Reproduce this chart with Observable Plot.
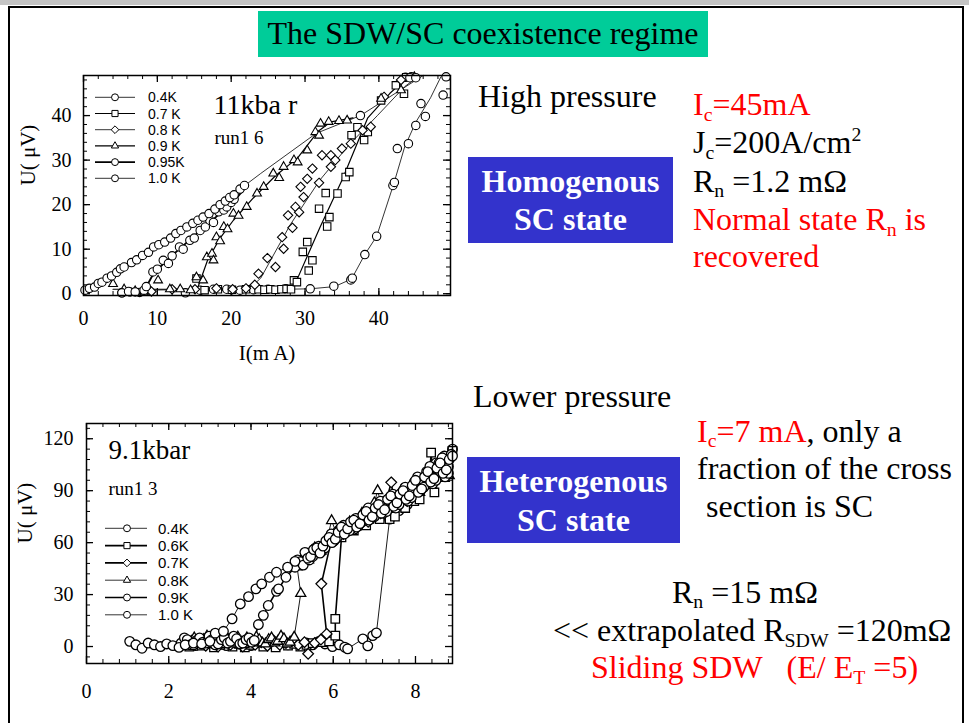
<!DOCTYPE html>
<html><head><meta charset="utf-8">
<script src="https://cdn.jsdelivr.net/npm/d3@7"></script>
<script src="https://cdn.jsdelivr.net/npm/@observablehq/plot@0.6"></script>
<style>
body{margin:0;background:#fff;}
#slide{position:relative;width:969px;height:723px;overflow:hidden;background:#fff;font-family:"Liberation Serif","Times New Roman",serif;}
.t{position:absolute;white-space:nowrap;line-height:1;}
.sub{font-size:0.62em;position:relative;top:0.28em;}
.sup{font-size:0.62em;position:relative;top:-0.62em;}
.plot{position:absolute;}
</style></head>
<body><div id="slide"></div>
<script>
// ---------- tick labels ----------
const TOP_X_TICKS = [0, 10, 20, 30, 40];
const TOP_Y_TICKS = [0, 10, 20, 30, 40];
const BOT_X_TICKS = [0, 2, 4, 6, 8];
const BOT_Y_TICKS = [0, 30, 60, 90, 120];

// ---------- top chart (11 kbar): I (mA), U (µV) ----------
const top_04K = [[5.2,0.2],[6.3,0.4],[7.6,0.3],[13.8,0.2],[15.8,0.8],[17.6,1.0],[19.4,1.0],[21.2,0.8],[23.0,0.9],[25.0,1.0],[27.4,1.1],[30.7,1.1],[33.9,1.7],[36.2,3.1],[36.4,3.5],[38.1,8.8],[39.7,12.9],[41.9,24.3],[42.1,25.0],[42.5,32.6],[44.0,33.7],[45.0,37.8],[45.7,42.7],[46.3,39.8],[48.7,44.6],[49.1,48.7],[43.6,48.6],[44.4,48.7]];
const top_07K = [[15.3,3.4],[16.4,0.8],[18.2,1.0],[20.1,0.9],[22.0,1.0],[23.7,1.0],[24.5,0.9],[25.3,1.0],[26.0,0.9],[26.8,1.0],[27.5,1.1],[28.1,1.0],[28.5,3.0],[28.9,2.6],[29.7,9.4],[30.3,11.6],[30.5,5.2],[31.0,7.5],[31.9,19.1],[33.0,15.1],[33.3,17.2],[32.8,22.6],[34.4,22.5],[35.5,26.2],[36.0,27.3],[36.3,35.6],[37.1,37.4],[38.0,34.5],[38.5,36.3],[40.3,43.4],[42.3,46.8],[43.4,44.9],[43.7,48.6]];
const top_08K = [[9.2,0.5],[12.0,1.0],[15.1,1.0],[18.0,1.2],[20.2,1.0],[22.0,1.2],[23.2,2.0],[23.7,4.5],[24.9,8.0],[26.0,6.0],[26.9,12.7],[27.1,10.1],[27.7,17.6],[28.3,14.8],[28.7,19.5],[29.2,18.3],[29.4,24.0],[29.8,21.7],[30.3,25.8],[31.0,28.1],[31.9,24.9],[32.3,31.1],[33.5,28.5],[33.5,31.1],[34.1,30.0],[35.0,32.6],[36.2,33.7],[37.8,36.7],[38.9,37.5],[40.7,44.2],[43.0,48.0]];
const top_09K = [[4.0,2.2],[5.5,1.0],[7.0,0.6],[8.2,0.3],[10.1,3.0],[11.7,1.0],[13.1,1.0],[14.5,0.8],[15.3,3.7],[16.2,3.0],[16.7,8.2],[17.4,9.0],[17.6,7.5],[18.0,12.7],[18.5,11.8],[19.0,15.0],[19.5,14.5],[20.3,18.0],[21.0,17.5],[22.1,19.5],[23.5,22.5],[24.4,24.0],[25.7,27.0],[26.5,26.0],[27.1,28.5],[28.5,30.0],[29.0,29.5],[30.3,32.2],[31.4,36.3],[31.9,35.5],[32.1,38.2],[33.2,38.6],[34.6,38.8],[35.7,38.9],[40.3,43.8],[43.0,45.7],[44.8,48.7]];
const top_095K = [[5.2,0.2],[6.1,0.5],[7.0,0.4],[8.2,0.8],[8.5,1.6],[9.4,4.9],[10.0,5.5],[10.8,7.5],[11.5,6.8],[12.0,8.5],[13.0,10.5],[13.5,10.0],[14.4,12.0],[15.0,12.5],[15.8,14.2],[16.5,15.0],[17.1,16.5],[17.6,16.0],[18.3,18.4],[19.0,18.8],[19.4,19.5],[20.0,20.5],[20.4,21.2]];
const top_10K = [[0.2,0.8],[0.8,1.2],[1.5,1.5],[2.0,2.3],[2.5,2.6],[3.2,3.5],[3.8,4.0],[4.5,4.8],[5.0,5.6],[5.5,6.0],[6.5,7.0],[7.2,7.6],[8.0,8.6],[8.8,9.3],[9.5,10.5],[10.2,11.0],[11.0,11.6],[11.8,12.5],[12.5,13.5],[13.2,14.2],[14.0,15.0],[14.8,15.8],[15.5,16.5],[16.2,17.2],[17.0,18.0],[17.8,19.0],[18.5,20.0],[19.2,20.8],[19.8,21.6],[20.4,22.2],[21.2,23.5],[21.8,24.3],[37.5,40.0],[44.2,48.5],[45.0,48.5]];
// guide curves drawn through the top data
const top_04K_fit = [[13,0.6],[30.7,1.1],[34,1.6],[36.3,3.3],[38.1,8.8],[39.7,12.9],[42,24.6],[43.5,33],[45,38.5],[47,44],[48.4,48.7]];
const top_07K_fit = [[16,1.0],[28.2,1.1],[29,3.5],[32,14.8],[35,25.5],[38.5,39.5],[41.5,45],[44,48.8]];
const top_08K_fit = [[9,0.8],[22.5,1.2],[24,3.5],[28,15.5],[32,25.5],[36,33.5],[39.8,40],[43.5,46.5],[45.5,49]];
const top_09K_fit = [[4,1],[15.4,1],[16.8,7.5],[18.5,12.5],[20.3,16.5],[23,21.5],[26,26.5],[29,30.5],[31.8,36.5],[33.5,38.6],[36.5,39.5]];
const top_095K_fit = [[5,0.3],[8.2,0.6],[9.5,4.6],[12,8.6],[15,13],[18,17.3],[20.5,21],[22,24]];
const top_10K_fit = [[0,0.8],[10,11],[20,22],[24,27],[31.5,36],[37.5,40],[46,49]];

// ---------- bottom chart (9.1 kbar) ----------
const bot_04K = [[2.35,1],[2.5,2.5],[2.65,0.5],[2.8,2],[2.95,3],[3.1,1],[3.25,2.5],[3.4,0.5],[3.55,3],[3.7,1.5],[3.85,2.5],[4.0,0.5],[4.15,3],[4.3,1],[4.45,2],[4.6,0],[4.75,2.5],[4.9,1],[5.05,3],[5.2,0.5],[5.35,2],[5.5,1],[5.65,3],[5.8,1.5],[5.98,0],[6.15,1],[6.28,-0.4],[6.35,-1.3],[6.72,4.4],[6.84,0.4],[6.96,6.3],[7.05,7.9],[7.37,73.6],[7.45,76.5],[7.6,78.5],[7.7,86],[7.8,82],[7.9,92],[8.0,88],[8.1,96],[8.2,92],[8.3,100],[8.4,97],[8.5,106],[8.6,101],[8.7,110],[8.8,104],[8.9,114]];
const bot_06K = [[2.5,0],[2.65,1.5],[2.8,0.5],[2.95,2],[3.1,-0.5],[3.25,1],[3.4,2.5],[3.55,0],[3.7,1.5],[3.85,-0.5],[4.0,1],[4.15,2],[4.3,0],[4.45,1.5],[4.6,-0.5],[4.75,2],[4.9,0.5],[5.05,1.5],[5.2,0],[5.35,1],[5.5,2],[5.75,2.5],[5.9,3],[6.05,6.3],[6.05,16],[6.2,63],[6.35,70],[6.5,67],[6.65,74],[6.8,70],[6.95,79],[7.13,73.6],[7.25,84],[7.37,73.6],[7.5,75],[7.6,87],[7.75,80],[7.9,91],[7.97,84],[8.1,85],[8.2,95],[8.34,96.8],[8.38,112],[8.46,89],[8.6,104],[8.75,108],[8.9,113]];
const bot_07K = [[2.6,1],[2.75,3],[2.9,0.5],[3.05,2.5],[3.2,0],[3.35,3],[3.5,1],[3.65,2],[3.8,0],[3.95,3],[4.1,1],[4.25,2.5],[4.4,0.5],[4.55,3.5],[4.7,1],[4.85,2],[5.0,3.5],[5.15,1],[5.3,2.5],[5.39,-4.2],[5.55,2],[5.7,4],[5.84,7.3],[5.71,36.2],[5.96,62],[6.1,67],[6.25,65],[6.4,71],[6.55,68],[6.7,75],[6.85,72],[7.0,81],[7.15,77],[7.3,85],[7.41,94.8],[7.5,81],[7.65,88],[7.8,84],[7.95,94],[8.1,90],[8.25,99],[8.4,95],[8.55,105],[8.7,100],[8.85,110]];
const bot_08K = [[2.55,3],[2.62,5],[2.7,1],[2.78,2.5],[2.85,4],[2.93,6],[3.0,2],[3.08,1],[3.15,3.5],[3.23,5],[3.3,1],[3.38,3],[3.45,4],[3.53,1.5],[3.6,2.5],[3.68,5.5],[3.75,3],[3.83,1],[3.9,5],[3.98,3],[4.05,2],[4.13,5.5],[4.2,4],[4.28,2],[4.35,1.5],[4.43,4],[4.5,5],[4.58,2],[4.65,3],[4.73,6],[4.8,4.5],[4.88,1.5],[4.95,2.5],[5.05,5.4],[5.21,30.6],[5.12,46],[5.25,51],[5.4,50],[5.55,57],[5.7,55],[5.85,62],[5.96,72.7],[6.1,64],[6.25,66],[6.4,72],[6.55,69],[6.7,77],[6.85,73],[7.0,83],[7.08,90],[7.2,79],[7.35,86],[7.5,80],[7.65,90],[7.8,85],[7.95,95],[8.1,89],[8.25,100],[8.4,93],[8.55,104],[8.7,97],[8.82,98.7]];
const bot_09K = [[2.3,2],[2.38,5],[2.45,4],[2.53,1],[2.6,1],[2.68,3.5],[2.75,5],[2.83,2.5],[2.9,2],[2.98,6],[3.05,4],[3.13,1],[3.2,1.5],[3.28,4],[3.35,5],[3.43,2],[3.5,3],[3.58,6],[3.65,4.5],[3.73,1.5],[3.8,2],[3.88,4],[3.95,5],[4.02,2.5],[4.08,3.5],[4.18,12.7],[4.3,18],[4.42,23.7],[4.62,31.9],[4.67,33.3],[4.85,40],[5.07,45.8],[5.13,50],[5.2,49],[5.27,47],[5.35,54],[5.42,50],[5.5,52],[5.57,57],[5.65,58],[5.72,55],[5.8,57],[5.87,62],[5.95,65],[6.02,61],[6.1,63],[6.17,68],[6.25,70],[6.32,66],[6.4,67],[6.47,72],[6.55,74],[6.62,70],[6.7,72],[6.77,77],[6.85,80],[6.92,74],[7.0,75],[7.07,81],[7.15,84],[7.22,77],[7.3,78],[7.37,85],[7.45,88],[7.52,80],[7.6,82],[7.67,89],[7.75,92],[7.82,84],[7.9,86],[7.97,95],[8.05,98],[8.12,90],[8.2,92],[8.27,101],[8.35,104],[8.42,94],[8.5,96],[8.57,106],[8.65,109],[8.72,98],[8.8,100],[8.87,111]];
const bot_10K = [[1.05,3],[1.2,1],[1.35,-1],[1.5,2],[1.65,1],[1.8,0],[1.95,1.5],[2.1,0.5],[2.25,-0.5],[2.4,1],[2.6,2],[2.8,1.5],[3.0,3],[3.13,7.7],[3.33,8.8],[3.54,16],[3.74,24.6],[3.94,28.8],[4.12,33.3],[4.26,36.2],[4.45,40],[4.62,42.9],[4.89,45.8],[5.07,49.2],[5.31,54.4],[5.38,51],[5.45,52],[5.52,56],[5.6,57],[5.68,54],[5.75,58],[5.82,61],[5.9,63],[5.97,60],[6.05,62],[6.12,66],[6.2,69],[6.27,65],[6.35,68],[6.42,72],[6.5,73],[6.57,69],[6.65,71],[6.72,76],[6.8,78],[6.87,73],[6.95,75],[7.02,80],[7.1,82],[7.17,77],[7.25,79],[7.32,85],[7.4,87],[7.47,81],[7.55,83],[7.62,88],[7.7,90],[7.77,85],[7.85,87],[7.92,93],[8.0,96],[8.07,89],[8.15,91],[8.22,98],[8.3,101],[8.37,95],[8.45,97],[8.52,103],[8.6,106],[8.67,100],[8.75,102],[8.82,108],[8.9,110]];

// legend labels
const TOP_LEGEND = ["0.4K", "0.7 K", "0.8 K", "0.9 K", "0.95K", "1.0 K"];
const BOT_LEGEND = ["0.4K", "0.6K", "0.7K", "0.8K", "0.9K", "1.0 K"];

// ---------- build ----------
const slide = document.getElementById("slide");
const SYM = {circle: d3.symbolCircle, square: d3.symbolSquare, diamond2: d3.symbolDiamond2, triangle2: d3.symbolTriangle2};
const X = d => d[0], Y = d => d[1];

function frameTicks(iW, iH, xMin, xMaj, yMin, yMaj) {
  const a = {stroke: "black", strokeWidth: 1};
  const b = {stroke: "black", strokeWidth: 1.3};
  return [
    Plot.tickX(xMin, {x: d => d, insetTop: iH - 4, ...a}),
    Plot.tickX(xMin, {x: d => d, insetBottom: iH - 4, ...a}),
    Plot.tickX(xMaj, {x: d => d, insetTop: iH - 7, ...b}),
    Plot.tickX(xMaj, {x: d => d, insetBottom: iH - 7, ...b}),
    Plot.tickY(yMin, {y: d => d, insetRight: iW - 4, ...a}),
    Plot.tickY(yMin, {y: d => d, insetLeft: iW - 4, ...a}),
    Plot.tickY(yMaj, {y: d => d, insetRight: iW - 7, ...b}),
    Plot.tickY(yMaj, {y: d => d, insetLeft: iW - 7, ...b})
  ];
}

function place(node, left, top) {
  const d = document.createElement("div");
  d.className = "plot"; d.style.left = left + "px"; d.style.top = top + "px";
  d.appendChild(node); slide.appendChild(d);
}

// top chart
{
  const W = 460, H = 310, mL = 83, mR = 10, mT = 15, mB = 75;
  const iW = W - mL - mR, iH = H - mT - mB;
  const series = [
    {d: top_04K, f: top_04K_fit, s: "circle", w: 0.8},
    {d: top_07K, f: top_07K_fit, s: "square", w: 1.2},
    {d: top_08K, f: top_08K_fit, s: "diamond2", w: 0.8},
    {d: top_09K, f: top_09K_fit, s: "triangle2", w: 1.2},
    {d: top_095K, f: top_095K_fit, s: "circle", w: 1.8},
    {d: top_10K, f: top_10K_fit, s: "circle", w: 0.8}
  ];
  const p = Plot.plot({
    width: W, height: H, marginLeft: mL, marginRight: mR, marginTop: mT, marginBottom: mB,
    x: {domain: [0, 49.7]}, y: {domain: [-0.4, 49]},
    style: {fontFamily: "'Liberation Serif', serif", background: "transparent", color: "black"},
    marks: [
      ...frameTicks(iW, iH, d3.range(0, 50, 2), TOP_X_TICKS, d3.range(0, 49, 2), TOP_Y_TICKS),
      Plot.axisX(TOP_X_TICKS, {tickSize: 0, tickPadding: 15, fontSize: 20, label: null}),
      Plot.axisY(TOP_Y_TICKS, {tickSize: 0, tickPadding: 12, fontSize: 20, label: null}),
      ...series.map(o => Plot.line(o.f, {x: X, y: Y, stroke: "black", strokeWidth: o.w})),
      ...series.map(o => Plot.dot(o.d, {x: X, y: Y, symbol: o.s, r: 4.2, fill: "white", stroke: "black", strokeWidth: 1.1})),
      Plot.text(["11kba r"], {frameAnchor: "top-left", dx: 130, dy: 38, lineAnchor: "bottom", textAnchor: "start", fontSize: 28}),
      Plot.text(["run1 6"], {frameAnchor: "top-left", dx: 131, dy: 68, lineAnchor: "bottom", textAnchor: "start", fontSize: 19}),
      Plot.text(["I(m A)"], {frameAnchor: "bottom", dy: 58, lineAnchor: "middle", fontSize: 21}),
      Plot.text(["U( μV)"], {frameAnchor: "left", dx: -55, rotate: -90, lineAnchor: "middle", fontSize: 21}),
      Plot.frame({stroke: "black", strokeWidth: 1.5})
    ]
  });
  place(p, 0, 60);
}

// bottom chart
{
  const W = 460, H = 303, mL = 86, mR = 8, mT = 3, mB = 60;
  const iW = W - mL - mR, iH = H - mT - mB;
  const series = [
    {d: bot_04K, s: "circle", w: 0.9},
    {d: bot_06K, s: "square", w: 1.6},
    {d: bot_07K, s: "diamond2", w: 1.6},
    {d: bot_08K, s: "triangle2", w: 0.9},
    {d: bot_09K, s: "circle", w: 1.6},
    {d: bot_10K, s: "circle", w: 0.9}
  ];
  const p = Plot.plot({
    width: W, height: H, marginLeft: mL, marginRight: mR, marginTop: mT, marginBottom: mB,
    x: {domain: [0, 8.9]}, y: {domain: [-9.8, 128.8]},
    style: {fontFamily: "'Liberation Serif', serif", background: "transparent", color: "black"},
    marks: [
      ...frameTicks(iW, iH, d3.range(0.4, 8.9, 0.4), BOT_X_TICKS, d3.range(-6, 128, 6), BOT_Y_TICKS),
      Plot.axisX(BOT_X_TICKS, {tickSize: 0, tickPadding: 20, fontSize: 20, label: null}),
      Plot.axisY(BOT_Y_TICKS, {tickSize: 0, tickPadding: 13, fontSize: 20, label: null}),
      ...series.map(o => Plot.line(o.d, {x: X, y: Y, stroke: "black", strokeWidth: o.w})),
      ...series.map(o => Plot.dot(o.d, {x: X, y: Y, symbol: o.s, r: 4.8, fill: "white", stroke: "black", strokeWidth: 1.3})),
      Plot.text(["9.1kbar"], {frameAnchor: "top-left", dx: 22, dy: 35, lineAnchor: "bottom", textAnchor: "start", fontSize: 27}),
      Plot.text(["run1 3"], {frameAnchor: "top-left", dx: 22, dy: 71, lineAnchor: "bottom", textAnchor: "start", fontSize: 19}),
      Plot.text(["U( μV)"], {frameAnchor: "left", dx: -61, rotate: -90, lineAnchor: "middle", fontSize: 21}),
      Plot.frame({stroke: "black", strokeWidth: 1.5})
    ]
  });
  place(p, 0, 420);
}

// legends (overlay)
const ov = d3.select(slide).append("svg").attr("width", 969).attr("height", 723)
  .style("position", "absolute").style("left", 0).style("top", 0).style("pointer-events", "none");
function legend(labels, syms, widths, y0, step, fs, x1, x2, xm, xt) {
  labels.forEach((lab, i) => {
    const y = y0 + i * step;
    ov.append("line").attr("x1", x1).attr("x2", x2).attr("y1", y).attr("y2", y)
      .attr("stroke", "black").attr("stroke-width", widths[i]);
    ov.append("path").attr("d", d3.symbol(SYM[syms[i]], Math.PI * 12)())
      .attr("transform", `translate(${xm},${y})`).attr("fill", "white").attr("stroke", "black");
    ov.append("text").attr("x", xt).attr("y", y).attr("dy", "0.36em")
      .attr("font-family", "'Liberation Sans', Arial, sans-serif").attr("font-size", fs).text(lab);
  });
}
legend(TOP_LEGEND, ["circle","square","diamond2","triangle2","circle","circle"], [0.8,1.2,0.8,1.2,1.8,0.8],
  97.3, 16.2, 14, 95, 135, 115, 148);
legend(BOT_LEGEND, ["circle","square","diamond2","triangle2","circle","circle"], [0.8,1.6,1.6,0.8,1.6,0.8],
  528.3, 17.3, 15, 105, 147, 127, 158);

// ---------- slide decorations and text ----------
function div(style, html = "") {
  const d = document.createElement("div");
  d.style.position = "absolute"; Object.assign(d.style, style); d.innerHTML = html; slide.appendChild(d); return d;
}
div({left: "0px", top: "0px", width: "969px", height: "5px", background: "#c4c4c4"});
div({left: "8px", top: "6px", width: "956px", height: "740px", border: "2px solid black", boxSizing: "border-box"});
div({left: "258px", top: "11px", width: "450px", height: "46px", background: "#00CC99"});

function txt(html, x, base, size = 32, color = "#000", weight = "normal", width = null) {
  const d = document.createElement("div");
  d.className = "t"; d.innerHTML = html;
  d.style.left = x + "px"; d.style.top = (base - 0.8375 * size) + "px";
  d.style.fontSize = size + "px"; d.style.color = color; d.style.fontWeight = weight;
  if (width) { d.style.width = width + "px"; d.style.textAlign = "center"; }
  slide.appendChild(d); return d;
}
const RED = "#FF0000";
txt("The SDW/SC coexistence regime", 258, 44, 32, "#000", "normal", 450);

txt("High pressure", 478, 106.7);
txt('I<span class="sub">c</span>=45mA', 693, 115, 32, RED);
txt('J<span class="sub">c</span>=200A/cm<span class="sup">2</span>', 693, 153);
txt('R<span class="sub">n</span> =1.2 mΩ', 693, 191.7);
txt('Normal state R<span class="sub">n</span> is', 693, 230, 32, RED);
txt('recovered', 693, 266.7, 32, RED);
div({left: "468px", top: "157px", width: "205px", height: "86px", background: "#3333CC"});
txt("Homogenous", 468, 191.7, 32, "#fff", "bold", 205);
txt("SC state", 468, 230, 32, "#fff", "bold", 205);

txt("Lower pressure", 473, 407);
txt('<span style="color:#FF0000">I<span class="sub">c</span>=7 mA</span>, only a', 697, 441.7);
txt("fraction of the cross", 697, 479);
txt("section is SC", 706, 517);
div({left: "467px", top: "457px", width: "213px", height: "86px", background: "#3333CC"});
txt("Heterogenous", 467, 491.7, 32, "#fff", "bold", 213);
txt("SC state", 467, 530.7, 32, "#fff", "bold", 213);

txt('R<span class="sub">n</span> =15 mΩ', 672, 602.7);
txt('&lt;&lt; extrapolated R<span class="sub">SDW</span> =120mΩ', 553, 641);
txt('Sliding SDW&nbsp;&nbsp; (E/ E<span class="sub">T</span> =5)', 591, 678, 32, RED);
</script>
</body></html>
